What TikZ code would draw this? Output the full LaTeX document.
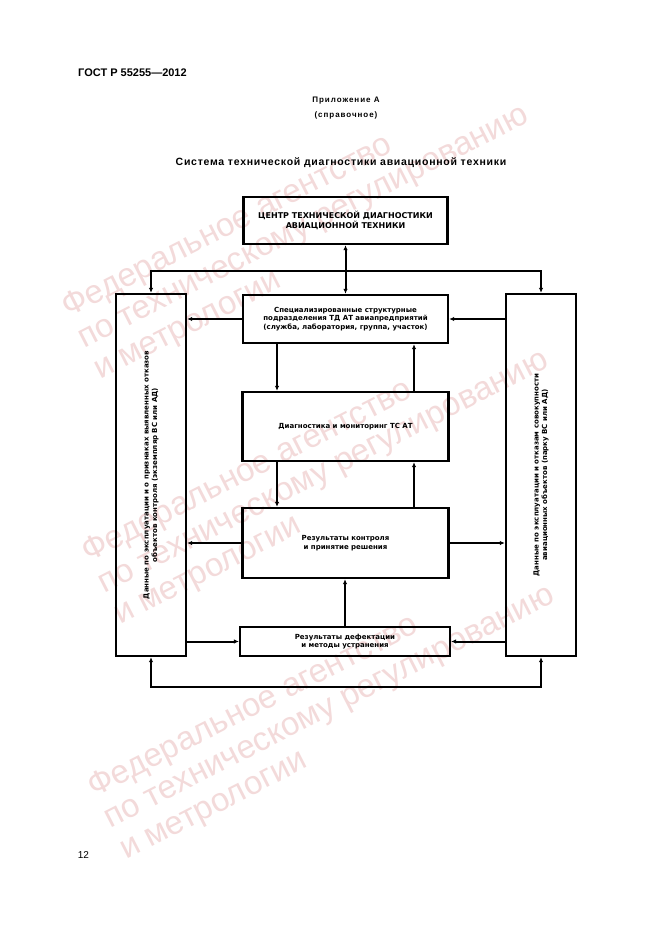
\documentclass[tikz,border=0pt]{standalone}
\usepackage{fontspec}
\setmainfont{Liberation Sans}
\newfontfamily\boxfont{DejaVu Sans}
\usetikzlibrary{arrows.meta}
\definecolor{wm}{RGB}{243,218,218}
\tikzset{
  blk/.style={draw, line width=2.4pt, inner sep=0pt, align=center,
    font=\boxfont\bfseries\fontsize{7}{8.5}\selectfont},
  lbl/.style={inner sep=0pt, align=center,
    font=\boxfont\bfseries\fontsize{7}{8.5}\selectfont},
  ln/.style={line width=2pt, line cap=rect},
  conn/.style={line width=2pt, -{Latex[length=5pt,width=4.5pt]}},
  dconn/.style={line width=2pt, {Latex[length=5pt,width=4.5pt]}-{Latex[length=5pt,width=4.5pt]}},
  wmark/.style={text=wm, font=\fontsize{33}{35}\selectfont, rotate=27,
    align=left, anchor=base west, inner sep=0pt}
}
\begin{document}
\begin{tikzpicture}[x=1pt,y=-1pt]
\useasboundingbox (0,0) rectangle (661,936);
\fill[white] (0,0) rectangle (661,936);
% watermarks
\node[wmark] (wm1) at (100,380) {Федеральное агентство\\по техническому регулированию\\и метрологии};
\node[wmark] (wm2) at (120,625) {Федеральное агентство\\по техническому регулированию\\и метрологии};
\node[wmark] (wm3) at (126,860) {Федеральное агентство\\по техническому регулированию\\и метрологии};
% headers
\node[anchor=base west, inner sep=0pt, font=\bfseries\fontsize{11}{13}\selectfont] (hdr) at (78,77) {ГОСТ Р 55255—2012};
\node[inner sep=0pt, font=\bfseries\fontsize{8}{10}\selectfont\addfontfeature{LetterSpace=12}] (app) at (346,101) {Приложение А};
\node[inner sep=0pt, font=\bfseries\fontsize{8}{10}\selectfont\addfontfeature{LetterSpace=12}] (ref) at (346,115) {(справочное)};
\node[inner sep=0pt, font=\bfseries\fontsize{10.5}{12}\selectfont\addfontfeature{LetterSpace=7}] (title) at (341,163) {Система технической диагностики авиационной техники};
\node[inner sep=0pt, font=\fontsize{10}{12}\selectfont] (pg) at (83.5,854.5) {12};
% boxes
\node[blk, minimum width=204pt, minimum height=47pt, font=\boxfont\bfseries\fontsize{8}{10}\selectfont] (top) at (345.5,220.5) {ЦЕНТР ТЕХНИЧЕСКОЙ ДИАГНОСТИКИ\\АВИАЦИОННОЙ ТЕХНИКИ};
\node[blk, minimum width=205pt, minimum height=48pt] (spec) at (345.5,319) {Специализированные структурные\\подразделения ТД АТ авиапредприятий\\(служба, лаборатория, группа, участок)};
\node[blk, minimum width=206pt, minimum height=69pt] (diag) at (345.5,426.5) {Диагностика и мониторинг ТС АТ};
\node[blk, minimum width=206pt, minimum height=70pt] (res) at (345.5,543) {Результаты контроля\\и принятие решения};
\node[blk, line width=2.2pt, minimum width=210pt, minimum height=29pt] (def) at (345,641.5) {Результаты дефектации\\и методы устранения};
\node[blk, minimum width=70pt, minimum height=362pt] (left) at (151,475) {};
\node[blk, minimum width=70pt, minimum height=362pt] (right) at (541,475) {};
\node[lbl, rotate=90] (ltxt) at (left.center) {Данные по эксплуатации и о признаках выявленных отказов\\объектов контроля (экземпляр ВС или АД)};
\node[lbl, rotate=90] (rtxt) at (right.center) {Данные по эксплуатации и отказам совокупности\\авиационных объектов (парку ВС или АД)};
% helper coordinates
\coordinate (tl) at (151,271);
\coordinate (tr) at (541,271);
\coordinate (bl) at (151,687);
\coordinate (br) at (541,687);
\coordinate (xa) at (277,0);
\coordinate (xb) at (414,0);
% connectors
\draw[ln] (tl) -- (tr);
\draw[conn] (tl) -- (left.north);
\draw[conn] (tr) -- (right.north);
\draw[ln] (bl) -- (br);
\draw[conn] (bl) -- (left.south);
\draw[conn] (br) -- (right.south);
\draw[dconn] (top.south) -- (spec.north);
\draw[conn] (spec.west) -- (spec.west -| left.east);
\draw[conn] (spec.east -| right.west) -- (spec.east);
\draw[conn] (spec.south -| xa) -- (diag.north -| xa);
\draw[conn] (diag.north -| xb) -- (spec.south -| xb);
\draw[conn] (diag.south -| xa) -- (res.north -| xa);
\draw[conn] (res.north -| xb) -- (diag.south -| xb);
\draw[conn] (res.west) -- (res.west -| left.east);
\draw[conn] (res.east) -- (res.east -| right.west);
\draw[conn] (def.north) -- (def.north |- res.south);
\draw[conn] (def.west -| left.east) -- (def.west);
\draw[conn] (def.east -| right.west) -- (def.east);
\end{tikzpicture}
\end{document}
